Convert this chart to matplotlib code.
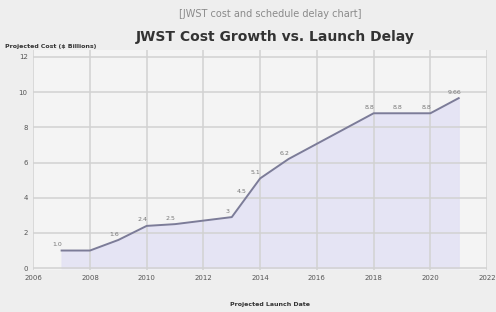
import matplotlib
matplotlib.use('Agg')
import matplotlib.pyplot as plt

# projected launch year vs projected cost ($B)
launch_year = [2007, 2008, 2009, 2010, 2011, 2013, 2013.5, 2014, 2015, 2018, 2019, 2020, 2021]
cost = [1.0, 1.0, 1.6, 2.4, 2.5, 2.9, 4.0, 5.1, 6.2, 8.8, 8.8, 8.8, 9.66]
point_labels = ['1.0', '', '1.6', '2.4', '2.5', '3', '4.5', '5.1', '6.2', '8.8', '8.8', '8.8', '9.66']
x_ticks = [2006, 2008, 2010, 2012, 2014, 2016, 2018, 2020, 2022]
y_ticks = [0, 2, 4, 6, 8, 10, 12]

fig = plt.figure(figsize=(4.96, 3.12), dpi=100, facecolor='#eeeeee')
ax = fig.add_axes([0.067, 0.135, 0.915, 0.705])
ax.set_facecolor('#f4f4f4')

ax.fill_between(launch_year, cost, 0, color='#e4e3f4', alpha=0.9, zorder=1)
ax.plot(launch_year, cost, color='#7c7c98', lw=1.4, zorder=3)

for x, y, t in zip(launch_year, cost, point_labels):
    if t:
        ax.text(x - 0.15, y + 0.25, t, fontsize=4.5, color='#777777', ha='center', zorder=4)

ax.set_xlim(2006, 2022)
ax.set_ylim(-0.1, 12.4)
ax.set_xticks(x_ticks)
ax.set_yticks(y_ticks)
ax.tick_params(labelsize=5, colors='#555555', length=0, pad=4)
ax.grid(True, color='#d2d2d2', lw=1.1, zorder=0)
for s in ax.spines.values():
    s.set_visible(False)

fig.text(0.545, 0.945, '[JWST cost and schedule delay chart]', fontsize=7, color='#8a8a8a', ha='center')
fig.text(0.555, 0.87, 'JWST Cost Growth vs. Launch Delay', fontsize=10, fontweight='bold', color='#333333', ha='center')
fig.text(0.01, 0.845, 'Projected Cost ($ Billions)', fontsize=4.5, fontweight='bold', color='#333333')
fig.text(0.545, 0.02, 'Projected Launch Date', fontsize=4.5, fontweight='bold', color='#333333', ha='center')

fig.savefig('out.png', dpi=100, facecolor=fig.get_facecolor())
